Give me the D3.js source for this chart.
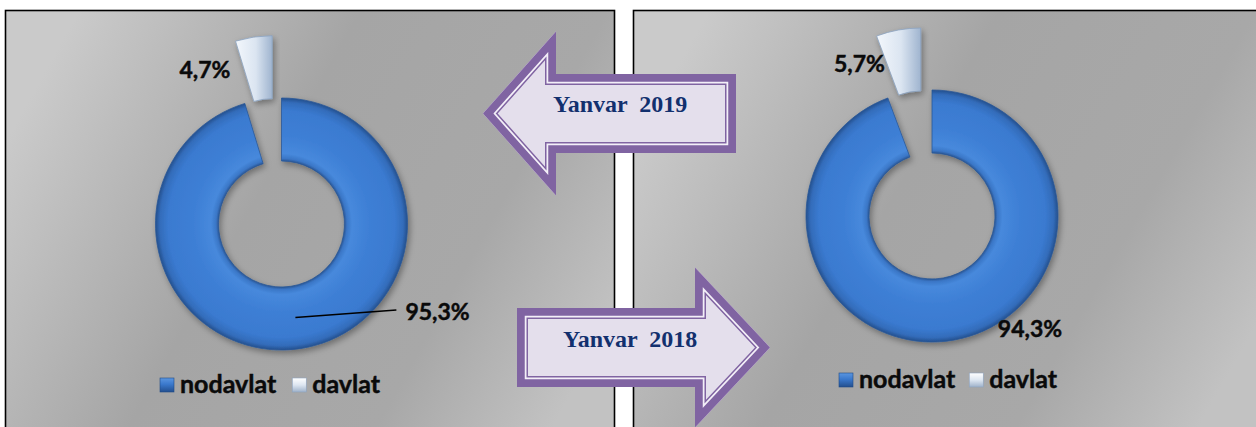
<!DOCTYPE html>
<html>
<head>
<meta charset="utf-8">
<script src="https://cdn.jsdelivr.net/npm/d3@7"></script>
<style>
  html, body { margin: 0; padding: 0; background: #ffffff; }
  svg { display: block; }
</style>
</head>
<body>
<svg id="chart" width="1256" height="427"></svg>
<script>
// ---------------- data ----------------
const categories = ["nodavlat", "davlat"];
const values2019 = [95.3, 4.7];
const values2018 = [94.3, 5.7];
const periodLabels = ["Yanvar  2019", "Yanvar  2018"];

// ---------------- layout ----------------
const W = 1256, H = 427;
const svg = d3.select("#chart");
const defs = svg.append("defs");
const fmt = v => d3.format(".1f")(v).replace(".", ",") + "%";

const panels = [
  { id: "p2019", values: values2019, x0: 5.5, x1: 614.5, cx: 281.5, cy: 224,
    bigLabel: { dx: 110, dy: 2.5, leader: true }, smallLabel: { dx: -28, dy: 10 },
    legend: { x: 160, y: 393, gap: 16 } },
  { id: "p2018", values: values2018, x0: 633.5, x1: 1262, cx: 932, cy: 216,
    bigLabel: { dx: 49, dy: 28, leader: false }, smallLabel: { dx: -19, dy: 11 },
    legend: { x: 839, y: 388, gap: 14 } }
];
const R = 126, r0 = 63, explode = 63;

// panel background gradient
const bg = defs.append("linearGradient").attr("id", "bgGrad")
  .attr("x1", 0).attr("y1", 0.3).attr("x2", 1).attr("y2", 0.7);
[[0, "#cacaca"], [0.4, "#a5a5a5"], [0.75, "#a8a8a8"], [1, "#c2c2c2"]]
  .forEach(([o, c]) => bg.append("stop").attr("offset", o).attr("stop-color", c));

// shadow
const sh = defs.append("filter").attr("id", "shadow").attr("x", "-20%").attr("y", "-20%").attr("width", "140%").attr("height", "140%");
sh.append("feDropShadow").attr("dx", 2).attr("dy", 3).attr("stdDeviation", 3)
  .attr("flood-color", "#000").attr("flood-opacity", 0.35);

// davlat gradient
const dg = defs.append("linearGradient").attr("id", "davGrad").attr("x1", 0).attr("y1", 0).attr("x2", 1).attr("y2", 0);
[[0, "#f3f7fc"], [0.55, "#dbe5f1"], [1, "#9fb4cf"]]
  .forEach(([o, c]) => dg.append("stop").attr("offset", o).attr("stop-color", c));

// ring bevel gradient (user space of the donut group, centred at 0,0)
const rg = defs.append("radialGradient").attr("id", "ringGrad")
  .attr("gradientUnits", "userSpaceOnUse")
  .attr("cx", 0).attr("cy", 0).attr("r", R);
[[0.5, "#2a5796"], [0.52, "#3a76c6"], [0.56, "#4789dc"], [0.7, "#3e7fd5"],
 [0.9, "#3a7ad0"], [0.965, "#336cba"], [1, "#24508e"]]
  .forEach(([o, c]) => rg.append("stop").attr("offset", o).attr("stop-color", c));

// legend square gradients
const lb = defs.append("linearGradient").attr("id", "legBlue").attr("x1", 0).attr("y1", 0).attr("x2", 0).attr("y2", 1);
[[0, "#5b96e0"], [0.45, "#3a78cc"], [1, "#234f8e"]].forEach(([o, c]) => lb.append("stop").attr("offset", o).attr("stop-color", c));
const lw = defs.append("linearGradient").attr("id", "legWhite").attr("x1", 0).attr("y1", 0).attr("x2", 0).attr("y2", 1);
[[0, "#ffffff"], [0.5, "#dde6f1"], [1, "#9fb2ca"]].forEach(([o, c]) => lw.append("stop").attr("offset", o).attr("stop-color", c));

const pie = d3.pie().sort(null).value(d => d);
const arc = d3.arc().innerRadius(r0).outerRadius(R);

const boldText = (s, size) => s.attr("font-family", "Lato, 'Open Sans', sans-serif")
  .attr("font-weight", 700).attr("font-size", size).attr("fill", "#0a0a0a")
  .attr("stroke", "#0a0a0a").attr("stroke-width", 0.45);

panels.forEach((p) => {
  // panel
  svg.append("rect")
    .attr("x", p.x0).attr("y", 10.5)
    .attr("width", p.x1 - p.x0).attr("height", H + 10)
    .attr("fill", "url(#bgGrad)")
    .attr("stroke", "#000").attr("stroke-width", 1.6);

  const g = svg.append("g").attr("transform", `translate(${p.cx},${p.cy})`);
  const arcs = pie(p.values);

  g.selectAll("path.slice").data(arcs).join("path")
    .attr("class", "slice")
    .attr("filter", "url(#shadow)")
    .attr("transform", (d, i) => {
      if (i === 0) return null;
      const m = (d.startAngle + d.endAngle) / 2;
      return `translate(${Math.sin(m) * explode},${-Math.cos(m) * explode})`;
    })
    .attr("d", arc)
    .attr("fill", (d, i) => i === 0 ? "url(#ringGrad)" : "url(#davGrad)")
    .attr("stroke", (d, i) => i === 0 ? "#2a5898" : "#8aa2c0")
    .attr("stroke-width", 0.8);

  // big slice label
  const c0 = arc.centroid(arcs[0]);
  if (p.bigLabel.leader) {
    g.append("line")
      .attr("x1", c0[0]).attr("y1", c0[1])
      .attr("x2", c0[0] + p.bigLabel.dx - 9).attr("y2", c0[1] - 7.5)
      .attr("stroke", "#000").attr("stroke-width", 1.6);
  }
  g.append("text").call(boldText, 23)
    .attr("x", c0[0] + p.bigLabel.dx).attr("y", c0[1] + p.bigLabel.dy)
    .text(fmt(p.values[0]));

  // small (exploded) slice label
  const m1 = (arcs[1].startAngle + arcs[1].endAngle) / 2;
  const c1 = arc.centroid(arcs[1]);
  const ex = c1[0] + Math.sin(m1) * explode, ey = c1[1] - Math.cos(m1) * explode;
  g.append("text").call(boldText, 23)
    .attr("text-anchor", "end")
    .attr("x", ex + p.smallLabel.dx).attr("y", ey + p.smallLabel.dy)
    .text(fmt(p.values[1]));

  // legend
  const lg = svg.append("g").attr("transform", `translate(${p.legend.x},${p.legend.y})`);
  let x = 0;
  categories.forEach((cat, i) => {
    lg.append("rect").attr("x", x).attr("y", -15).attr("width", 14).attr("height", 14)
      .attr("fill", i === 0 ? "url(#legBlue)" : "url(#legWhite)")
      .attr("stroke", i === 0 ? "#1f4a85" : "#8ea4bf").attr("stroke-width", 0.6);
    const t = lg.append("text").call(boldText, 25).attr("x", x + 20).attr("y", 0).text(cat);
    x += 20 + t.node().getComputedTextLength() + p.legend.gap;
  });
});

// ---------------- arrows ----------------
function arrowPoints(dir, tipX, cy, headLen, headHalf, shaftHalf, shaftLen) {
  const s = dir; // -1: pointing left, +1: pointing right
  const baseX = tipX - s * headLen;
  const endX = baseX - s * shaftLen;
  return [
    [tipX, cy], [baseX, cy - headHalf], [baseX, cy - shaftHalf], [endX, cy - shaftHalf],
    [endX, cy + shaftHalf], [baseX, cy + shaftHalf], [baseX, cy + headHalf]
  ];
}
const arrows = [
  { pts: arrowPoints(-1, 483, 113.5, 73, 82, 39.5, 180), label: periodLabels[0], tx: 553, ty: 112 },
  { pts: arrowPoints(1, 770, 347.5, 75, 80, 39.5, 178), label: periodLabels[1], tx: 563, ty: 347 }
];
const line = d3.line();
arrows.forEach((a, i) => {
  const id = "arrowClip" + i;
  const path = line(a.pts) + "Z";
  defs.append("clipPath").attr("id", id).append("path").attr("d", path);
  const g = svg.append("g");
  g.append("path").attr("d", path).attr("fill", "#e4dfec");
  [[22, "#8064a2"], [19, "#f3eff8"], [15.5, "#8064a2"]].forEach(([w, c]) => {
    g.append("path").attr("d", path).attr("fill", "none")
      .attr("stroke", c).attr("stroke-width", w)
      .attr("stroke-linejoin", "miter").attr("stroke-miterlimit", 10)
      .attr("clip-path", `url(#${id})`);
  });
  g.append("text")
    .attr("x", a.tx).attr("y", a.ty)
    .attr("xml:space", "preserve").style("white-space", "pre")
    .attr("font-family", "'Liberation Serif', 'Times New Roman', serif")
    .attr("font-weight", 700).attr("font-size", 24).attr("fill", "#12306e")
    .text(a.label);
});
</script>
</body>
</html>
